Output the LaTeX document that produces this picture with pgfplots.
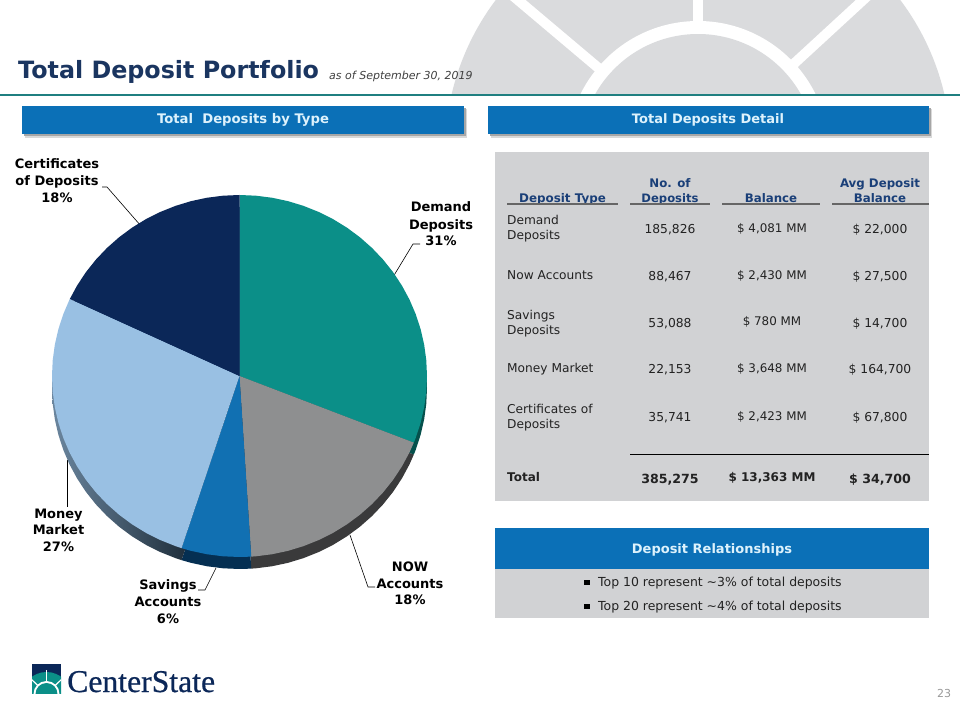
\documentclass[border=0pt]{standalone}
\usepackage{pgfplots}
\pgfplotsset{compat=1.18}
\usepackage{pgfplotstable}
\usepackage{fontspec}
\setmainfont{DejaVu Sans}
\newfontfamily\logofont[FakeBold=0.6]{Liberation Serif}

\definecolor{teal1}{HTML}{0B8F88}
\definecolor{teal1d}{HTML}{05504C}
\definecolor{grey1}{HTML}{8E8F90}
\definecolor{grey1d}{HTML}{3A3A3B}
\definecolor{blue1}{HTML}{1170B2}
\definecolor{blue1d}{HTML}{052F52}
\definecolor{sky1}{HTML}{99C0E3}
\definecolor{navy1}{HTML}{0B2758}
\definecolor{banner}{HTML}{0B70B7}
\definecolor{bannertxt}{HTML}{DDF2FC}
\definecolor{panel}{HTML}{D1D2D4}
\definecolor{wm}{HTML}{DADBDD}
\definecolor{titlec}{HTML}{1A3560}
\definecolor{headc}{HTML}{1A3F78}
\definecolor{rulec}{HTML}{1F7F80}
\definecolor{bodyc}{HTML}{222222}

% wedge outlines: angle (deg), radius; shares 31, 18, 6, 27, 18 percent
\pgfplotstableread[row sep=\\]{
a r\\ 0 0\\ 90 1\\ 85 1\\ 80 1\\ 75 1\\ 70 1\\ 65 1\\ 60 1\\ 55 1\\ 50 1\\ 45 1\\ 40 1\\ 35 1\\ 30 1\\ 25 1\\ 20 1\\ 15 1\\ 10 1\\ 5 1\\ 0 1\\ -5 1\\ -10 1\\ -15 1\\ -20 1\\ -21.6 1\\
}\demand
\pgfplotstableread[row sep=\\]{
a r\\ 0 0\\ -21.6 1\\ -25 1\\ -30 1\\ -35 1\\ -40 1\\ -45 1\\ -50 1\\ -55 1\\ -60 1\\ -65 1\\ -70 1\\ -75 1\\ -80 1\\ -85 1\\ -86.4 1\\
}\nowacc
\pgfplotstableread[row sep=\\]{
a r\\ 0 0\\ -86.4 1\\ -90 1\\ -95 1\\ -100 1\\ -105 1\\ -108 1\\
}\savings
\pgfplotstableread[row sep=\\]{
a r\\ 0 0\\ -108 1\\ -110 1\\ -115 1\\ -120 1\\ -125 1\\ -130 1\\ -135 1\\ -140 1\\ -145 1\\ -150 1\\ -155 1\\ -160 1\\ -165 1\\ -170 1\\ -175 1\\ -180 1\\ -185 1\\ -190 1\\ -195 1\\ -200 1\\ -205 1\\ -205.2 1\\
}\money
\pgfplotstableread[row sep=\\]{
a r\\ 0 0\\ 154.8 1\\ 150 1\\ 145 1\\ 140 1\\ 135 1\\ 130 1\\ 125 1\\ 120 1\\ 115 1\\ 110 1\\ 105 1\\ 100 1\\ 95 1\\ 90 1\\
}\certs

\pgfplotsset{
  pie axis/.style={hide axis, scale only axis, width=375pt, height=362pt,
    xmin=-1, xmax=1, ymin=-1, ymax=1, clip=false, anchor=south west},
  wedge/.style={draw=none, forget plot, data cs=polar},
}

% text at pixel position: x, baseline y, font size, text
\newcommand{\ctext}[5][bodyc]{\node[anchor=base, inner sep=0pt, text=#1, font=\fontsize{#4}{#4}\selectfont] at (axis cs:#2,#3) {#5};}
\newcommand{\ltext}[5][bodyc]{\node[anchor=base west, inner sep=0pt, text=#1, font=\fontsize{#4}{#4}\selectfont] at (axis cs:#2,#3) {#5};}
\newcommand{\rbox}[5]{\fill[#5] (axis cs:#1,#2) rectangle (axis cs:#3,#4);}

\begin{document}
\begin{tikzpicture}
\begin{axis}[hide axis, scale only axis, width=960pt, height=720pt,
  xmin=0, xmax=960, ymin=0, ymax=720, y dir=reverse, clip=false, at={(0pt,0pt)}, anchor=south west]
  \addplot[draw=none, forget plot] coordinates {(0,0) (960,720)};

  % background emblem
  \begin{scope}
    \clip (axis cs:0,0) rectangle (axis cs:960,94);
    \fill[wm] (axis cs:698,152) circle (253pt);
    \draw[white, line width=10pt] (axis cs:698,152) -- (axis cs:698,-5);
    \draw[white, line width=10pt] (axis cs:698,152) -- (axis cs:506,-10);
    \draw[white, line width=10pt] (axis cs:698,152) -- (axis cs:874,-10);
    \fill[white] (axis cs:698,152) circle (131pt);
    \fill[wm] (axis cs:698,152) circle (118pt);
  \end{scope}
  \fill[rulec] (axis cs:0,93.7) rectangle (axis cs:960,96);

  % title
  \ltext[titlec]{18}{78}{23.8}{\bfseries Total Deposit Portfolio}
  \ltext[black!75]{329}{79}{11}{\itshape as of September 30, 2019}

  % banners
  \rbox{25}{109}{467}{137.5}{black!15}
  \rbox{24}{108}{466}{136}{black!35}
  \rbox{22}{106}{464}{134}{banner}
  \rbox{491}{109}{932}{137.5}{black!15}
  \rbox{490}{108}{931}{136}{black!35}
  \rbox{488}{106}{929}{134}{banner}
  \ctext[bannertxt]{243}{123.5}{13.2}{\bfseries Total\ \ Deposits by Type}
  \ctext[bannertxt]{708}{123.5}{13}{\bfseries Total Deposits Detail}

  % table panel
  \rbox{495}{152}{929}{501}{panel}
  \ctext[headc]{562.5}{202}{11.9}{\bfseries Deposit Type}
  \ctext[headc]{670}{187}{11.8}{\bfseries No. of}
  \ctext[headc]{670}{202}{11.6}{\bfseries Deposits}
  \ctext[headc]{771}{202}{11.8}{\bfseries Balance}
  \ctext[headc]{880}{187}{11.8}{\bfseries Avg Deposit}
  \ctext[headc]{880}{202}{11.8}{\bfseries Balance}
  \draw[black!60, line width=1.2pt] (axis cs:507,204) -- (axis cs:618,204);
  \draw[black!60, line width=1.2pt] (axis cs:630,204) -- (axis cs:710,204);
  \draw[black!60, line width=1.2pt] (axis cs:722,204) -- (axis cs:820,204);
  \draw[black!60, line width=1.2pt] (axis cs:832,204) -- (axis cs:929,204);

  \ltext{507}{224}{12.2}{Demand}
  \ltext{507}{239}{12.2}{Deposits}
  \ctext{670}{233.5}{12.3}{185,826}
  \ctext{772}{232}{11.9}{\$ 4,081 MM}
  \ctext{880}{233.5}{12.3}{\$ 22,000}

  \ltext{507}{279}{12.2}{Now Accounts}
  \ctext{670}{280.5}{12.3}{88,467}
  \ctext{772}{279}{11.9}{\$ 2,430 MM}
  \ctext{880}{280.5}{12.3}{\$ 27,500}

  \ltext{507}{319}{12.2}{Savings}
  \ltext{507}{334}{12.2}{Deposits}
  \ctext{670}{327}{12.3}{53,088}
  \ctext{772}{325}{11.9}{\$ 780 MM}
  \ctext{880}{327}{12.3}{\$ 14,700}

  \ltext{507}{372.5}{12.2}{Money Market}
  \ctext{670}{373.5}{12.3}{22,153}
  \ctext{772}{372.5}{11.9}{\$ 3,648 MM}
  \ctext{880}{373.5}{12.3}{\$ 164,700}

  \ltext{507}{413}{12.2}{Certificates of}
  \ltext{507}{428}{12.2}{Deposits}
  \ctext{670}{421}{12.3}{35,741}
  \ctext{772}{420}{11.9}{\$ 2,423 MM}
  \ctext{880}{421}{12.3}{\$ 67,800}

  \draw[black, line width=0.9pt] (axis cs:630,454) -- (axis cs:929,454);
  \ltext{507}{481.5}{12}{\bfseries Total}
  \ctext{670}{483}{12.6}{\bfseries 385,275}
  \ctext{772}{481.5}{12}{\bfseries \$ 13,363 MM}
  \ctext{880}{483}{12.6}{\bfseries \$ 34,700}

  % relationships
  \rbox{495}{528}{929}{569}{banner}
  \rbox{495}{569}{929}{618}{panel}
  \ctext[bannertxt]{712}{553.5}{13}{\bfseries Deposit Relationships}
  \rbox{583.5}{579.5}{589.5}{585}{black}
  \rbox{583.5}{603.5}{589.5}{609}{black}
  \ltext{598}{586}{12.45}{Top 10 represent \char`~3\% of total deposits}
  \ltext{598}{610}{12.45}{Top 20 represent \char`~4\% of total deposits}

  % pie labels
  \ctext[black]{57}{168.5}{13}{\bfseries Certificates}
  \ctext[black]{57}{185.5}{13}{\bfseries of Deposits}
  \ctext[black]{57}{202.5}{13}{\bfseries 18\%}
  \ctext[black]{441}{211.5}{13}{\bfseries Demand}
  \ctext[black]{441}{229.5}{13}{\bfseries Deposits}
  \ctext[black]{441}{245.5}{13}{\bfseries 31\%}
  \ctext[black]{410}{571.5}{13}{\bfseries NOW}
  \ctext[black]{410}{588.5}{13}{\bfseries Accounts}
  \ctext[black]{410}{604.5}{13}{\bfseries 18\%}
  \ctext[black]{168}{589.5}{13}{\bfseries Savings}
  \ctext[black]{168}{606.5}{13}{\bfseries Accounts}
  \ctext[black]{168}{623.5}{13}{\bfseries 6\%}
  \ctext[black]{58.5}{518.5}{13}{\bfseries Money}
  \ctext[black]{58.5}{534.5}{13}{\bfseries Market}
  \ctext[black]{58.5}{551.5}{13}{\bfseries 27\%}

  % leader lines
  \draw[black, line width=0.6pt] (axis cs:102,187) -- (axis cs:107,187) -- (axis cs:141,226);
  \draw[black, line width=0.6pt] (axis cs:393,277) -- (axis cs:413,244) -- (axis cs:420,244);
  \draw[black, line width=0.6pt] (axis cs:350,535) -- (axis cs:368,587) -- (axis cs:375,587);
  \draw[black, line width=0.6pt] (axis cs:216,568) -- (axis cs:205,590) -- (axis cs:198,590);
  \draw[black, line width=0.6pt] (axis cs:67,460) -- (axis cs:67,507);

  % logo
  \begin{scope}
    \clip (axis cs:32,664) rectangle (axis cs:61,693.5);
    \fill[navy1] (axis cs:32,664) rectangle (axis cs:61,694);
    \fill[teal1] (axis cs:46.5,697) circle (25pt);
    \draw[white, line width=1.2pt] (axis cs:46.5,694) -- (axis cs:46.5,670);
    \draw[white, line width=1.2pt] (axis cs:46.5,694) -- (axis cs:28,676);
    \draw[white, line width=1.2pt] (axis cs:46.5,694) -- (axis cs:65,676);
    \fill[white] (axis cs:46.5,694) circle (13pt);
    \fill[teal1] (axis cs:46.5,694) circle (11pt);
  \end{scope}
  \ltext[navy1]{67}{692}{31.7}{\logofont CenterState}

  \ctext[black!40]{944}{697}{11}{23}
\end{axis}

% rim of the pie, the same wedges set 12 px lower
\begin{axis}[pie axis, at={(52pt,151pt)}]
  \addplot[wedge, fill=teal1d] table[x=a, y=r] {\demand};
  \addplot[wedge, fill=grey1d] table[x=a, y=r] {\nowacc};
  \addplot[wedge, fill=blue1d] table[x=a, y=r] {\savings};
  \addplot[wedge, left color=sky1!70!black, right color=black!75!blue1d] table[x=a, y=r] {\money};
  \addplot[wedge, fill=navy1] table[x=a, y=r] {\certs};
\end{axis}

\begin{axis}[pie axis, at={(52pt,163pt)}]
  \addplot[wedge, fill=teal1] table[x=a, y=r] {\demand};
  \addplot[wedge, fill=grey1] table[x=a, y=r] {\nowacc};
  \addplot[wedge, fill=blue1] table[x=a, y=r] {\savings};
  \addplot[wedge, fill=sky1] table[x=a, y=r] {\money};
  \addplot[wedge, fill=navy1] table[x=a, y=r] {\certs};
\end{axis}
\end{tikzpicture}
\end{document}
